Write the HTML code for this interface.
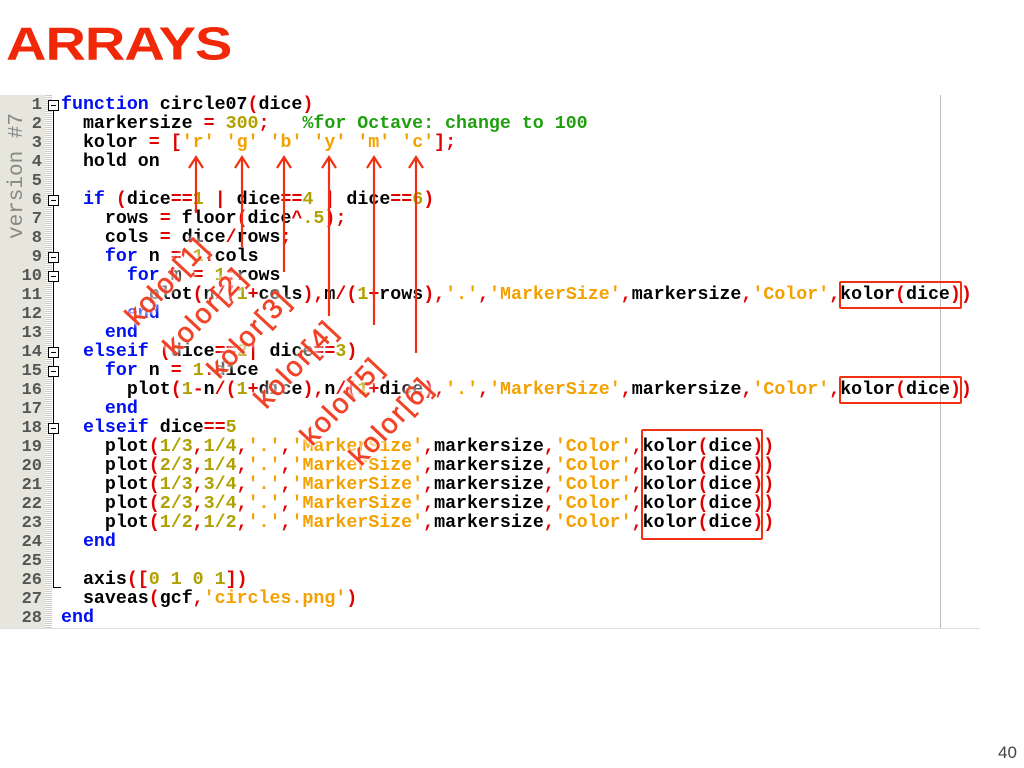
<!DOCTYPE html>
<html><head><meta charset="utf-8"><style>
body{margin:0;width:1024px;height:768px;background:#fff;position:relative;overflow:hidden;font-family:"Liberation Sans",sans-serif}
#title{position:absolute;left:6px;top:17px;font:bold 56px "Liberation Sans",sans-serif;color:#f02808;letter-spacing:-1px;transform:scaleY(0.82);transform-origin:left top}
#gut{position:absolute;left:0;top:95px;width:45px;height:533px;background:#e6e6dc}
#dots{position:absolute;left:45px;top:95px;width:7px;height:533px;background:repeating-linear-gradient(#ccc 0 1px,#fff 1px 2px)}
#ver{position:absolute;left:-48px;top:164px;width:132px;height:24px;transform:rotate(-90deg);font:21px/24px "Liberation Mono",monospace;color:#888;text-align:center;white-space:nowrap}
.num{position:absolute;left:0;width:42px;text-align:right;font:bold 17px "Liberation Mono",monospace;color:#555;line-height:19px}
pre{position:absolute;left:61px;top:96px;margin:0;font:bold 18.3px/19px "Liberation Mono",monospace;color:#000}
.k{color:#0010f0}.o{color:#e00000}.s{color:#f4a000}.n{color:#b0a000}.c{color:#20a010}
.fold{position:absolute;left:48px;width:9px;height:9px;border:1px solid #000;background:#fff}
.fold:after{content:"";position:absolute;left:2px;top:4px;width:5px;height:1px;background:#000}
.box{position:absolute;border:2.5px solid #f03010;border-radius:2px}
.lab{position:absolute;width:120px;height:34px;line-height:34px;text-align:center;font:28px "Liberation Sans",sans-serif;letter-spacing:2px;color:rgba(240,50,20,0.9);-webkit-text-stroke:0.6px rgba(240,50,20,0.9);transform:rotate(-47deg);text-shadow:0 0 4px #fff,0 0 6px #fff,0 0 8px #fff;white-space:nowrap}
</style></head><body>
<div id="title">ARRAYS</div>
<div id="gut"></div><div id="dots"></div>
<div id="ver">version #7</div>
<div style="position:absolute;left:940px;top:95px;width:1px;height:533px;background:#bbb"></div>
<div style="position:absolute;left:0;top:628px;width:980px;height:1px;background:#ddd"></div>
<div style="position:absolute;left:53px;top:110px;width:1px;height:478px;background:#000"></div>
<div style="position:absolute;left:53px;top:587px;width:8px;height:1px;background:#000"></div>
<div class="num" style="top:96px">1<br>2<br>3<br>4<br>5<br>6<br>7<br>8<br>9<br>10<br>11<br>12<br>13<br>14<br>15<br>16<br>17<br>18<br>19<br>20<br>21<br>22<br>23<br>24<br>25<br>26<br>27<br>28</div>
<div class="fold" style="top:100px"></div><div class="fold" style="top:195px"></div><div class="fold" style="top:252px"></div><div class="fold" style="top:271px"></div><div class="fold" style="top:347px"></div><div class="fold" style="top:366px"></div><div class="fold" style="top:423px"></div>
<pre><span class="k">function</span> circle07<span class="o">(</span>dice<span class="o">)</span>
  markersize <span class="o">=</span> <span class="n">300</span><span class="o">;</span>   <span class="c">%for Octave: change to 100</span>
  kolor <span class="o">= [</span><span class="s">'r'</span> <span class="s">'g'</span> <span class="s">'b'</span> <span class="s">'y'</span> <span class="s">'m'</span> <span class="s">'c'</span><span class="o">];</span>
  hold on

  <span class="k">if</span> <span class="o">(</span>dice<span class="o">==</span><span class="n">1</span> <span class="o">|</span> dice<span class="o">==</span><span class="n">4</span> <span class="o">|</span> dice<span class="o">==</span><span class="n">6</span><span class="o">)</span>
    rows <span class="o">=</span> floor<span class="o">(</span>dice<span class="o">^</span><span class="n">.5</span><span class="o">);</span>
    cols <span class="o">=</span> dice<span class="o">/</span>rows<span class="o">;</span>
    <span class="k">for</span> n <span class="o">=</span> <span class="n">1</span><span class="o">:</span>cols
      <span class="k">for</span> m <span class="o">=</span> <span class="n">1</span><span class="o">:</span>rows
        plot<span class="o">(</span>n<span class="o">/(</span><span class="n">1</span><span class="o">+</span>cols<span class="o">),</span>m<span class="o">/(</span><span class="n">1</span><span class="o">+</span>rows<span class="o">),</span><span class="s">'.'</span><span class="o">,</span><span class="s">'MarkerSize'</span><span class="o">,</span>markersize<span class="o">,</span><span class="s">'Color'</span><span class="o">,</span>kolor<span class="o">(</span>dice<span class="o">))</span>
      <span class="k">end</span>
    <span class="k">end</span>
  <span class="k">elseif</span> <span class="o">(</span>dice<span class="o">==</span><span class="n">2</span><span class="o">|</span> dice<span class="o">==</span><span class="n">3</span><span class="o">)</span>
    <span class="k">for</span> n <span class="o">=</span> <span class="n">1</span><span class="o">:</span>dice
      plot<span class="o">(</span><span class="n">1</span><span class="o">-</span>n<span class="o">/(</span><span class="n">1</span><span class="o">+</span>dice<span class="o">),</span>n<span class="o">/(</span><span class="n">1</span><span class="o">+</span>dice<span class="o">),</span><span class="s">'.'</span><span class="o">,</span><span class="s">'MarkerSize'</span><span class="o">,</span>markersize<span class="o">,</span><span class="s">'Color'</span><span class="o">,</span>kolor<span class="o">(</span>dice<span class="o">))</span>
    <span class="k">end</span>
  <span class="k">elseif</span> dice<span class="o">==</span><span class="n">5</span>
    plot<span class="o">(</span><span class="n">1/3</span><span class="o">,</span><span class="n">1/4</span><span class="o">,</span><span class="s">'.'</span><span class="o">,</span><span class="s">'MarkerSize'</span><span class="o">,</span>markersize<span class="o">,</span><span class="s">'Color'</span><span class="o">,</span>kolor<span class="o">(</span>dice<span class="o">))</span>
    plot<span class="o">(</span><span class="n">2/3</span><span class="o">,</span><span class="n">1/4</span><span class="o">,</span><span class="s">'.'</span><span class="o">,</span><span class="s">'MarkerSize'</span><span class="o">,</span>markersize<span class="o">,</span><span class="s">'Color'</span><span class="o">,</span>kolor<span class="o">(</span>dice<span class="o">))</span>
    plot<span class="o">(</span><span class="n">1/3</span><span class="o">,</span><span class="n">3/4</span><span class="o">,</span><span class="s">'.'</span><span class="o">,</span><span class="s">'MarkerSize'</span><span class="o">,</span>markersize<span class="o">,</span><span class="s">'Color'</span><span class="o">,</span>kolor<span class="o">(</span>dice<span class="o">))</span>
    plot<span class="o">(</span><span class="n">2/3</span><span class="o">,</span><span class="n">3/4</span><span class="o">,</span><span class="s">'.'</span><span class="o">,</span><span class="s">'MarkerSize'</span><span class="o">,</span>markersize<span class="o">,</span><span class="s">'Color'</span><span class="o">,</span>kolor<span class="o">(</span>dice<span class="o">))</span>
    plot<span class="o">(</span><span class="n">1/2</span><span class="o">,</span><span class="n">1/2</span><span class="o">,</span><span class="s">'.'</span><span class="o">,</span><span class="s">'MarkerSize'</span><span class="o">,</span>markersize<span class="o">,</span><span class="s">'Color'</span><span class="o">,</span>kolor<span class="o">(</span>dice<span class="o">))</span>
  <span class="k">end</span>

  axis<span class="o">([</span><span class="n">0 1 0 1</span><span class="o">])</span>
  saveas<span class="o">(</span>gcf<span class="o">,</span><span class="s">'circles.png'</span><span class="o">)</span>
<span class="k">end</span></pre>
<div class="box" style="left:839px;top:281px;width:119px;height:24px"></div>
<div class="box" style="left:839px;top:376px;width:119px;height:24px"></div>
<div class="box" style="left:641px;top:429px;width:118px;height:107px"></div>
<div class="lab" style="left:108px;top:265px">kolor[1]</div>
<div class="lab" style="left:146px;top:295px">kolor[2]</div>
<div class="lab" style="left:190px;top:318px">kolor[3]</div>
<div class="lab" style="left:237px;top:348px">kolor[4]</div>
<div class="lab" style="left:283px;top:385px">kolor[5]</div>
<div class="lab" style="left:332px;top:405px">kolor[6]</div>
<svg style="position:absolute;left:0;top:0" width="1024" height="768">
<g stroke="#f03010" stroke-width="2.2" fill="none">
<path d="M196 213V158M189 168L196 157L203 168"/>
<path d="M242 247V158M235 168L242 157L249 168"/>
<path d="M284 272V158M277 168L284 157L291 168"/>
<path d="M329 316V158M322 168L329 157L336 168"/>
<path d="M374 325V158M367 168L374 157L381 168"/>
<path d="M416 353V158M409 168L416 157L423 168"/>
</g></svg>
<div style="position:absolute;left:998px;top:743px;font:17px 'Liberation Sans',sans-serif;color:#444">40</div>
</body></html>
